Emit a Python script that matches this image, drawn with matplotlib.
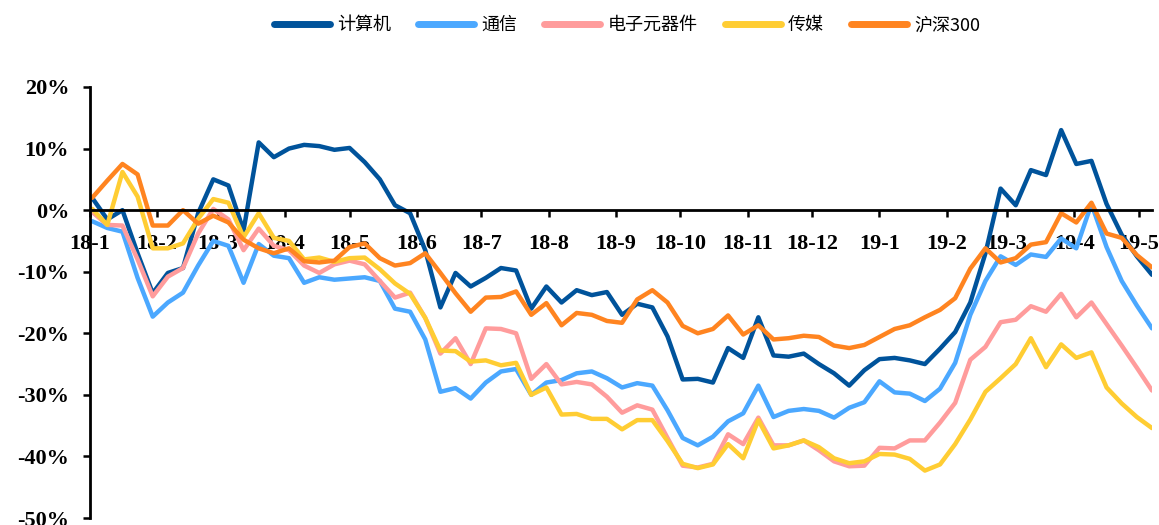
import numpy as np
import matplotlib
matplotlib.use("Agg")
import matplotlib.pyplot as plt

# weekly dates, 2018-01-02 .. 2019-05-07
dates = np.datetime64("2018-01-02") + np.arange(71) * np.timedelta64(7, "D")

computer = [2.0, -1.5, 0.0, -7.0, -13.5, -10.2, -9.4, -0.5, 5.0, 4.0,
            -3.3, 11.0, 8.6, 10.0, 10.6, 10.4, 9.8, 10.1, 7.8, 5.0,
            0.8, -0.5, -6.5, -15.8, -10.2, -12.4, -11.0, -9.4, -9.8, -16.0,
            -12.4, -15.0, -13.0, -13.8, -13.3, -17.0, -15.2, -15.8, -20.5, -27.5,
            -27.4, -28.0, -22.4, -24.0, -17.4, -23.6, -23.8, -23.3, -25.0, -26.5,
            -28.5, -26.0, -24.2, -24.0, -24.4, -25.0, -22.5, -19.8, -15.0, -7.0,
            3.5, 0.8, 6.5, 5.7, 13.0, 7.5, 8.0, 1.0, -4.0, -7.5,
            -10.5]
telecom = [-1.8, -2.9, -3.5, -11.0, -17.3, -15.0, -13.4, -9.0, -5.0, -5.8,
           -11.8, -5.5, -7.4, -7.8, -11.8, -10.9, -11.3, -11.1, -10.9, -11.5,
           -16.0, -16.5, -21.0, -29.5, -28.9, -30.6, -28.0, -26.2, -25.8, -30.0,
           -28.0, -27.6, -26.5, -26.2, -27.3, -28.8, -28.1, -28.5, -32.5, -37.0,
           -38.2, -36.8, -34.3, -33.0, -28.5, -33.6, -32.6, -32.3, -32.6, -33.7,
           -32.1, -31.2, -27.8, -29.6, -29.8, -31.0, -29.0, -24.8, -17.0, -11.5,
           -7.5, -8.9, -7.2, -7.6, -4.6, -6.2, 1.0, -6.0, -11.5, -15.5,
           -19.2]
electronics = [-0.3, -2.4, -2.5, -8.0, -14.0, -10.8, -9.4, -3.8, 0.2, -1.5,
               -6.5, -3.0, -5.8, -6.5, -9.0, -10.2, -8.8, -8.2, -8.8, -11.5,
               -14.2, -13.4, -17.5, -23.3, -20.8, -25.0, -19.2, -19.3, -20.0, -27.4,
               -25.0, -28.3, -27.9, -28.3, -30.3, -32.9, -31.7, -32.4, -37.0, -41.5,
               -41.8, -41.2, -36.4, -38.0, -33.7, -38.2, -38.2, -37.4, -39.0, -40.8,
               -41.6, -41.5, -38.6, -38.7, -37.4, -37.4, -34.5, -31.3, -24.3, -22.2,
               -18.2, -17.8, -15.6, -16.5, -13.6, -17.4, -15.0, -18.5, -22.0, -25.6,
               -29.3]
media = [0.2, -2.4, 6.2, 2.2, -6.2, -6.2, -5.4, -1.4, 1.8, 1.2,
         -4.4, -0.5, -4.5, -5.0, -8.0, -7.7, -8.4, -7.8, -7.7, -9.6,
         -11.9, -13.6, -17.5, -22.8, -22.9, -24.6, -24.4, -25.2, -24.8, -30.0,
         -28.8, -33.2, -33.1, -33.9, -33.9, -35.6, -34.1, -34.1, -37.5, -41.2,
         -41.9, -41.3, -38.0, -40.3, -34.1, -38.7, -38.2, -37.4, -38.5, -40.3,
         -41.1, -40.8, -39.6, -39.7, -40.4, -42.3, -41.3, -38.0, -34.0, -29.5,
         -27.3, -25.0, -20.8, -25.5, -21.8, -24.0, -23.1, -28.8, -31.4, -33.6,
         -35.4]
hs300 = [2.0, 4.8, 7.5, 5.8, -2.5, -2.5, 0.0, -2.2, -0.9, -2.0,
         -4.8, -6.2, -7.0, -6.2, -8.3, -8.5, -8.2, -6.0, -5.4, -7.8,
         -9.0, -8.6, -7.0, -10.2, -13.5, -16.5, -14.2, -14.1, -13.2, -17.0,
         -15.1, -18.7, -16.7, -17.0, -18.0, -18.3, -14.5, -13.0, -15.0, -18.8,
         -20.0, -19.3, -17.1, -20.2, -18.7, -21.0, -20.8, -20.4, -20.6, -22.0,
         -22.4, -21.9, -20.6, -19.3, -18.7, -17.4, -16.2, -14.3, -9.5, -6.2,
         -8.5, -7.8, -5.6, -5.2, -0.5, -2.0, 1.2, -3.8, -4.5, -7.3,
         -9.3]

names = ["计算机", "通信", "电子元器件", "传媒", "沪深300"]
colors = ["#00539B", "#4BA8FF", "#FF9C9C", "#FFCD33", "#FF8420"]

months = np.arange(np.datetime64("2018-01"), np.datetime64("2019-06")).astype("datetime64[D]")
month_labels = ["18-1", "18-2", "18-3", "18-4", "18-5", "18-6", "18-7", "18-8", "18-9",
                "18-10", "18-11", "18-12", "19-1", "19-2", "19-3", "19-4", "19-5"]

fig = plt.figure(figsize=(11.59, 5.25), dpi=100)
ax = fig.add_axes([90 / 1159, 7 / 525, (1152 - 90) / 1159, (518 - 87) / 525])

for s, name, c in zip([computer, telecom, electronics, media, hs300], names, colors):
    ax.plot(dates, s, color=c, lw=3.2, label=name, solid_joinstyle="round", solid_capstyle="round")

ax.set_xlim(np.datetime64("2018-01-01"), dates[-1])
ax.set_ylim(-50, 20)
ax.set_yticks(range(-50, 21, 10))
ax.set_yticklabels([f"{v}%" for v in range(-50, 21, 10)])
ax.set_xticks(months)
ax.set_xticklabels(month_labels)

for sp in ["top", "right"]:
    ax.spines[sp].set_visible(False)
ax.spines["bottom"].set_position(("data", 0))
ax.spines["bottom"].set_linewidth(2)
ax.spines["left"].set_linewidth(2)
ax.tick_params(axis="x", direction="out", length=5, width=1.8, pad=12)
ax.tick_params(axis="y", direction="out", length=5, width=1.8, pad=10)
for lab in ax.get_xticklabels() + ax.get_yticklabels():
    lab.set_fontfamily("Liberation Serif")
    lab.set_fontweight("bold")
    lab.set_fontsize(16)

leg = fig.legend(loc="center", bbox_to_anchor=(0.541, 0.952), ncol=5, frameon=False,
                 handlelength=3.1, columnspacing=1.5, handletextpad=0.4,
                 prop={"family": ["Noto Sans CJK SC", "DejaVu Sans"], "size": 13})
for h in leg.get_lines():
    h.set_linewidth(5)

fig.savefig("out.png", dpi=100)
